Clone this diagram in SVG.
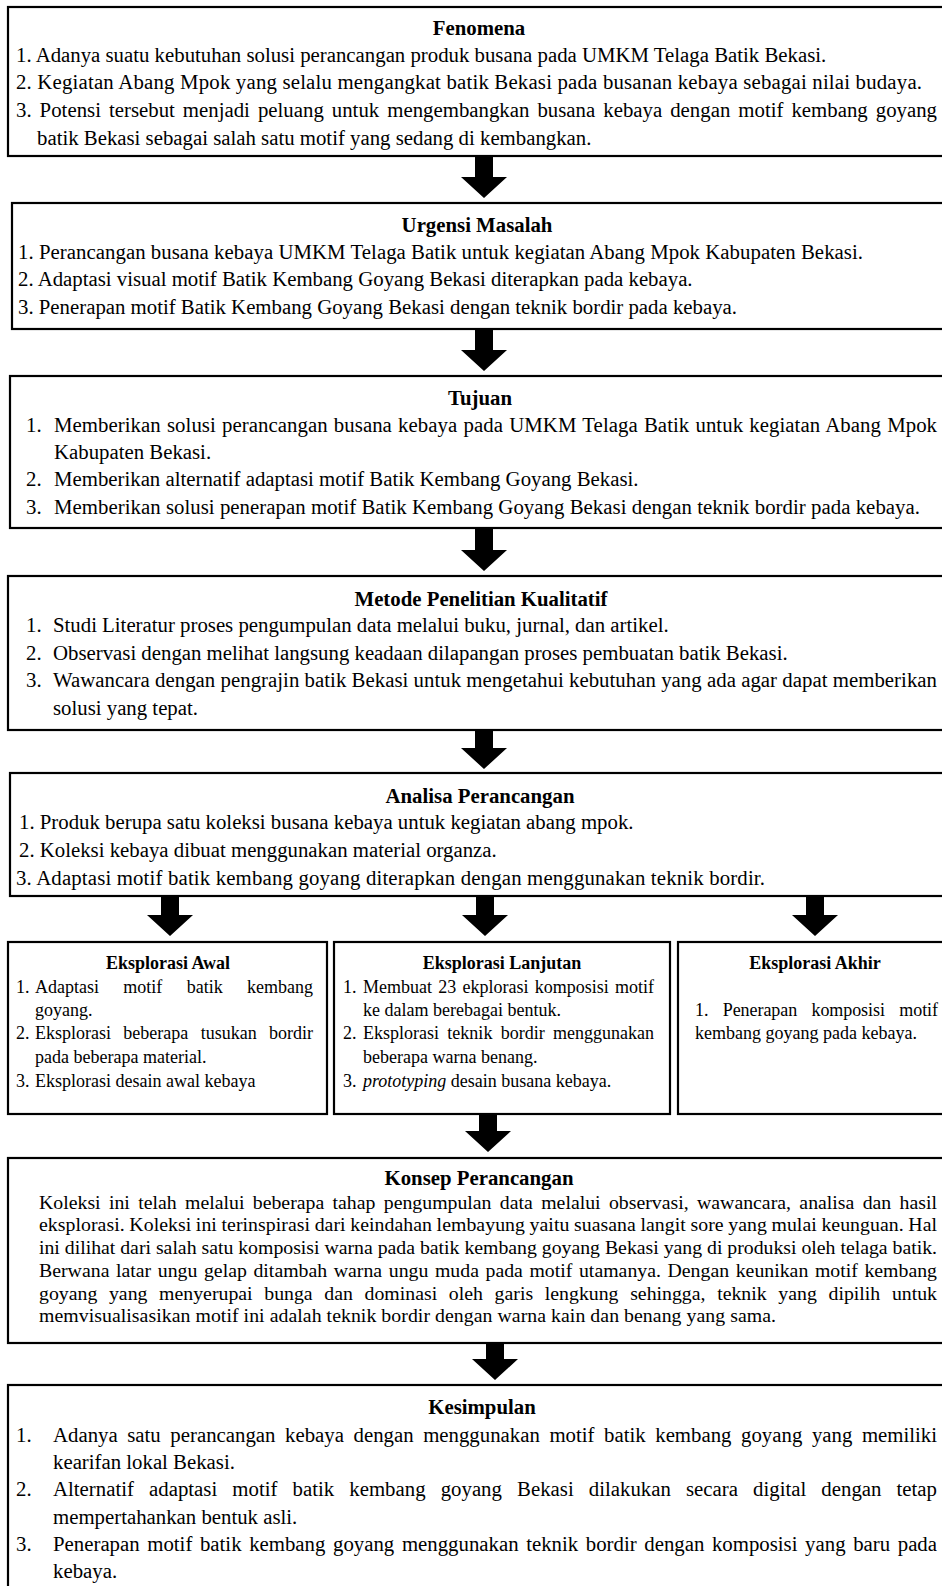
<svg xmlns="http://www.w3.org/2000/svg" width="942" height="1586" viewBox="0 0 942 1586">
<style>
.box{fill:#fff;stroke:#000;stroke-width:2.2}
text{font-family:"Liberation Serif","Times New Roman",serif;font-size:20.8px;fill:#000}
.h{font-weight:bold;text-anchor:middle}
.s{font-size:18px}
.k{font-size:19.8px}
.arr{fill:#000}
</style>
<rect width="942" height="1586" fill="#fff"/>
<g id="fenomena">
<rect class="box" x="8" y="7" width="960" height="149"/>
<text class="h" x="479" y="35">Fenomena</text>
<text x="16" y="62">1. Adanya suatu kebutuhan solusi perancangan produk busana pada UMKM Telaga Batik Bekasi.</text>
<text x="16" y="89" textLength="906" lengthAdjust="spacing">2. Kegiatan Abang Mpok yang selalu mengangkat batik Bekasi pada busanan kebaya sebagai nilai budaya.</text>
<text x="16" y="116.5" word-spacing="2.8" textLength="921" lengthAdjust="spacing">3. Potensi tersebut menjadi peluang untuk mengembangkan busana kebaya dengan motif kembang goyang</text>
<text x="37" y="144.5">batik Bekasi sebagai salah satu motif yang sedang di kembangkan.</text>
</g>
<g id="urgensi">
<rect class="box" x="12" y="203" width="960" height="126"/>
<text class="h" x="477" y="231.5">Urgensi Masalah</text>
<text x="18" y="258.5" textLength="845" lengthAdjust="spacing">1. Perancangan busana kebaya UMKM Telaga Batik untuk kegiatan Abang Mpok Kabupaten Bekasi.</text>
<text x="18" y="285.5">2. Adaptasi visual motif Batik Kembang Goyang Bekasi diterapkan pada kebaya.</text>
<text x="18" y="313.5">3. Penerapan motif Batik Kembang Goyang Bekasi dengan teknik bordir pada kebaya.</text>
</g>
<g id="tujuan">
<rect class="box" x="10" y="376" width="960" height="152"/>
<text class="h" x="480" y="405">Tujuan</text>
<text x="26" y="431.5">1.</text>
<text x="54" y="431.5" word-spacing="1" textLength="883" lengthAdjust="spacing">Memberikan solusi perancangan busana kebaya pada UMKM Telaga Batik untuk kegiatan Abang Mpok</text>
<text x="54" y="458.5">Kabupaten Bekasi.</text>
<text x="26" y="485.5">2.</text>
<text x="54" y="485.5">Memberikan alternatif adaptasi motif Batik Kembang Goyang Bekasi.</text>
<text x="26" y="513.5">3.</text>
<text x="54" y="513.5" textLength="866" lengthAdjust="spacing">Memberikan solusi penerapan motif Batik Kembang Goyang Bekasi dengan teknik bordir pada kebaya.</text>
</g>
<g id="metode">
<rect class="box" x="8" y="576" width="960" height="154"/>
<text class="h" x="481" y="605.5">Metode Penelitian Kualitatif</text>
<text x="26" y="631.5">1.</text>
<text x="53" y="631.5">Studi Literatur proses pengumpulan data melalui buku, jurnal, dan artikel.</text>
<text x="26" y="659.5">2.</text>
<text x="53" y="659.5">Observasi dengan melihat langsung keadaan dilapangan proses pembuatan batik Bekasi.</text>
<text x="26" y="687">3.</text>
<text x="53" y="687" textLength="884" lengthAdjust="spacing">Wawancara dengan pengrajin batik Bekasi untuk mengetahui kebutuhan yang ada agar dapat memberikan</text>
<text x="53" y="714.5">solusi yang tepat.</text>
</g>
<g id="analisa">
<rect class="box" x="10" y="773" width="960" height="123"/>
<text class="h" x="480" y="802.5">Analisa Perancangan</text>
<text x="19" y="829">1. Produk berupa satu koleksi busana kebaya untuk kegiatan abang mpok.</text>
<text x="19" y="857">2. Koleksi kebaya dibuat menggunakan material organza.</text>
<text x="16" y="884.5" textLength="749" lengthAdjust="spacing">3. Adaptasi motif batik kembang goyang diterapkan dengan menggunakan teknik bordir.</text>
</g>
<g id="eksplorasi-awal">
<rect class="box" x="8" y="942" width="319" height="172"/>
<text class="h s" x="168" y="969">Eksplorasi Awal</text>
<text class="s" x="16" y="993">1.</text>
<text class="s" x="35" y="993" word-spacing="19.8" textLength="278" lengthAdjust="spacing">Adaptasi motif batik kembang</text>
<text class="s" x="35" y="1016">goyang.</text>
<text class="s" x="16" y="1039">2.</text>
<text class="s" x="35" y="1039" word-spacing="7.8" textLength="278" lengthAdjust="spacing">Eksplorasi beberapa tusukan bordir</text>
<text class="s" x="35" y="1063">pada beberapa material.</text>
<text class="s" x="16" y="1087">3.</text>
<text class="s" x="35" y="1087">Eksplorasi desain awal kebaya</text>
</g>
<g id="eksplorasi-lanjutan">
<rect class="box" x="334" y="942" width="336" height="172"/>
<text class="h s" x="502" y="969">Eksplorasi Lanjutan</text>
<text class="s" x="343" y="993">1.</text>
<text class="s" x="363" y="993" word-spacing="1.7" textLength="291" lengthAdjust="spacing">Membuat 23 ekplorasi komposisi motif</text>
<text class="s" x="363" y="1016">ke dalam berebagai bentuk.</text>
<text class="s" x="343" y="1039">2.</text>
<text class="s" x="363" y="1039" word-spacing="3.8" textLength="291" lengthAdjust="spacing">Eksplorasi teknik bordir menggunakan</text>
<text class="s" x="363" y="1063">beberapa warna benang.</text>
<text class="s" x="343" y="1087">3.</text>
<text class="s" x="363" y="1087"><tspan font-style="italic">prototyping</tspan> desain busana kebaya.</text>
</g>
<g id="eksplorasi-akhir">
<rect class="box" x="678" y="942" width="290" height="172"/>
<text class="h s" x="815" y="969">Eksplorasi Akhir</text>
<text class="s" x="695" y="1016" word-spacing="10" textLength="243" lengthAdjust="spacing">1. Penerapan komposisi motif</text>
<text class="s" x="695" y="1039">kembang goyang pada kebaya.</text>
</g>
<g id="konsep">
<rect class="box" x="8" y="1158" width="960" height="185"/>
<text class="h" x="479" y="1184.5">Konsep Perancangan</text>
<text class="k" x="39" y="1208.5" word-spacing="3.4" textLength="898" lengthAdjust="spacing">Koleksi ini telah melalui beberapa tahap pengumpulan data melalui observasi, wawancara, analisa dan hasil</text>
<text class="k" x="39" y="1230.5" word-spacing="-0.4" textLength="898" lengthAdjust="spacing">eksplorasi. Koleksi ini terinspirasi dari keindahan lembayung yaitu suasana langit sore yang mulai keunguan. Hal</text>
<text class="k" x="39" y="1253.5" textLength="898" lengthAdjust="spacing">ini dilihat dari salah satu komposisi warna pada batik kembang goyang Bekasi yang di produksi oleh telaga batik.</text>
<text class="k" x="39" y="1276.5" word-spacing="1.6" textLength="898" lengthAdjust="spacing">Berwana latar ungu gelap ditambah warna ungu muda pada motif utamanya. Dengan keunikan motif kembang</text>
<text class="k" x="39" y="1299.5" word-spacing="6.7" textLength="898" lengthAdjust="spacing">goyang yang menyerupai bunga dan dominasi oleh garis lengkung sehingga, teknik yang dipilih untuk</text>
<text class="k" x="39" y="1321.5" textLength="737" lengthAdjust="spacing">memvisualisasikan motif ini adalah teknik bordir dengan warna kain dan benang yang sama.</text>
</g>
<g id="kesimpulan">
<rect class="box" x="8" y="1385" width="960" height="230"/>
<text class="h" x="482" y="1414">Kesimpulan</text>
<text x="16" y="1442">1.</text>
<text x="53" y="1442" word-spacing="4.4" textLength="884" lengthAdjust="spacing">Adanya satu perancangan kebaya dengan menggunakan motif batik kembang goyang yang memiliki</text>
<text x="53" y="1469">kearifan lokal Bekasi.</text>
<text x="16" y="1496">2.</text>
<text x="53" y="1496" word-spacing="9.9" textLength="884" lengthAdjust="spacing">Alternatif adaptasi motif batik kembang goyang Bekasi dilakukan secara digital dengan tetap</text>
<text x="53" y="1524">mempertahankan bentuk asli.</text>
<text x="16" y="1551">3.</text>
<text x="53" y="1551" word-spacing="2.4" textLength="884" lengthAdjust="spacing">Penerapan motif batik kembang goyang menggunakan teknik bordir dengan komposisi yang baru pada</text>
<text x="53" y="1578">kebaya.</text>
</g>
<g id="connectors">
<path class="arr" d="M475,157h18v20h14l-23,21l-23,-21h14z"/>
<path class="arr" d="M475,330h18v20h14l-23,21l-23,-21h14z"/>
<path class="arr" d="M475,529h18v21h14l-23,21l-23,-21h14z"/>
<path class="arr" d="M475,731h18v17h14l-23,21l-23,-21h14z"/>
<path class="arr" d="M161,897h18v18h14l-23,21l-23,-21h14z"/>
<path class="arr" d="M476,897h18v18h14l-23,21l-23,-21h14z"/>
<path class="arr" d="M806,897h18v18h14l-23,21l-23,-21h14z"/>
<path class="arr" d="M479,1115h18v16h14l-23,21l-23,-21h14z"/>
<path class="arr" d="M486,1344h18v15h14l-23,21l-23,-21h14z"/>
</g>
</svg>
